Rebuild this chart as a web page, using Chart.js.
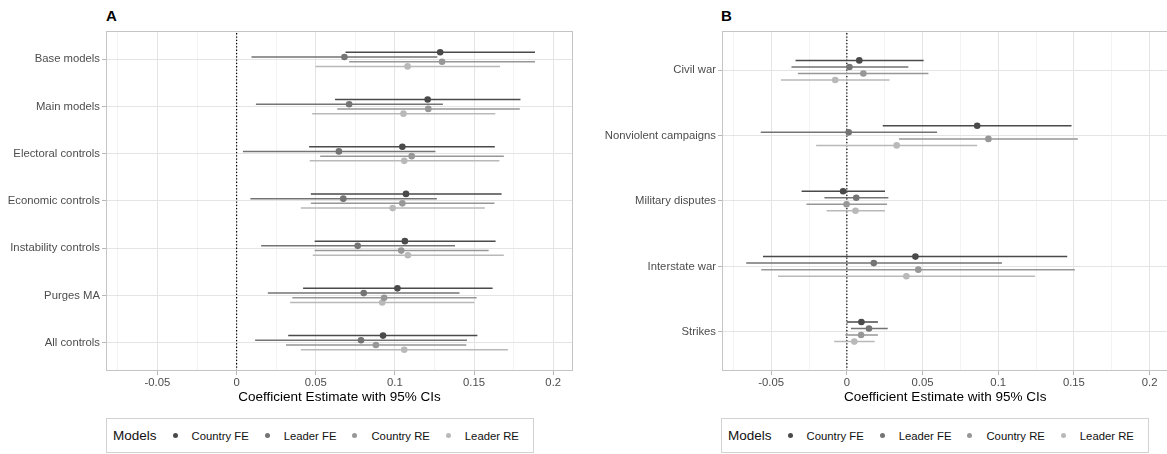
<!DOCTYPE html>
<html>
<head>
<meta charset="utf-8">
<script src="https://cdn.jsdelivr.net/npm/chart.js@4.4.1/dist/chart.umd.min.js"></script>
<style>
  html, body {
    margin: 0;
    padding: 0;
    background: #fff;
    width: 1167px;
    height: 454px;
    overflow: hidden;
    font-family: "Liberation Sans", Arial, sans-serif;
  }
  .panel { position: absolute; top: 0; }
  .tag {
    position: absolute;
    top: 8px;
    font-weight: bold;
    font-size: 15px;
    line-height: 1;
    color: #000;
  }
  .legend {
    position: absolute;
    top: 418px;
    height: 35px;
    box-sizing: border-box;
    border: 1px solid #d2d2d2;
    display: flex;
    align-items: center;
    padding: 0 14px 0 6px;
    white-space: nowrap;
  }
  .legend .title { font-size: 13.5px; color: #111; }
  .legend .key {
    width: 17px;
    height: 17px;
    margin-left: 10px;
    display: flex;
    align-items: center;
    justify-content: center;
  }
  .legend .key i { width: 5px; height: 5px; border-radius: 50%; display: block; }
  .legend .lab { font-size: 11.3px; margin-left: 8px; color: #111; }
</style>
</head>
<body>
<div class="tag" style="left:106px">A</div>
<div class="tag" style="left:721px">B</div>
<canvas id="chartA" class="panel" style="left:0" width="580" height="410"></canvas>
<canvas id="chartB" class="panel" style="left:580px" width="595" height="410"></canvas>
<div class="legend" id="legendA" style="left:106px"></div>
<div class="legend" id="legendB" style="left:721px"></div>

<script>
const modelNames = ["Country FE", "Leader FE", "Country RE", "Leader RE"];

// Panel A
const categoriesA = ["Base models", "Main models", "Electoral controls", "Economic controls",
  "Instability controls", "Purges MA", "All controls"];
const countryFeA = [0.1286, 0.1207, 0.1047, 0.1070, 0.1063, 0.1016, 0.0925];
const countryFeLoA = [0.0688, 0.0622, 0.0458, 0.0469, 0.0493, 0.0420, 0.0326];
const countryFeHiA = [0.1885, 0.1793, 0.1631, 0.1674, 0.1636, 0.1617, 0.1521];
const leaderFeA = [0.0681, 0.0711, 0.0646, 0.0674, 0.0765, 0.0803, 0.0786];
const leaderFeLoA = [0.0094, 0.0122, 0.0040, 0.0087, 0.0155, 0.0197, 0.0117];
const leaderFeHiA = [0.1268, 0.1303, 0.1256, 0.1265, 0.1380, 0.1408, 0.1455];
const countryReA = [0.1298, 0.1211, 0.1106, 0.1047, 0.1040, 0.0932, 0.0880];
const countryReLoA = [0.0711, 0.0636, 0.0528, 0.0469, 0.0493, 0.0352, 0.0312];
const countryReHiA = [0.1885, 0.1789, 0.1688, 0.1629, 0.1592, 0.1516, 0.1451];
const leaderReA = [0.1080, 0.1054, 0.1059, 0.0986, 0.1082, 0.0920, 0.1059];
const leaderReLoA = [0.0498, 0.0477, 0.0462, 0.0406, 0.0481, 0.0338, 0.0406];
const leaderReHiA = [0.1664, 0.1634, 0.1660, 0.1568, 0.1688, 0.1502, 0.1714];

// Panel B
const categoriesB = ["Civil war", "Nonviolent campaigns", "Military disputes", "Interstate war", "Strikes"];
const countryFeB = [0.0082, 0.0861, -0.0025, 0.0453, 0.0096];
const countryFeLoB = [-0.0339, 0.0237, -0.0299, -0.0554, 0.0000];
const countryFeHiB = [0.0507, 0.1484, 0.0252, 0.1456, 0.0205];
const leaderFeB = [0.0017, 0.0012, 0.0062, 0.0178, 0.0146];
const leaderFeLoB = [-0.0366, -0.0569, -0.0148, -0.0665, 0.0027];
const leaderFeHiB = [0.0406, 0.0596, 0.0274, 0.1024, 0.0270];
const countryReB = [0.0109, 0.0935, -0.0002, 0.0472, 0.0094];
const countryReLoB = [-0.0324, 0.0344, -0.0267, -0.0566, -0.0010];
const countryReHiB = [0.0539, 0.1526, 0.0265, 0.1506, 0.0205];
const leaderReB = [-0.0077, 0.0329, 0.0057, 0.0393, 0.0049];
const leaderReLoB = [-0.0435, -0.0203, -0.0134, -0.0455, -0.0084];
const leaderReHiB = [0.0282, 0.0861, 0.0252, 0.1244, 0.0183];

// x axis ticks
const xMajorTicks = [-0.05, 0, 0.05, 0.1, 0.15, 0.2];
const xMajorLabels = ["-0.05", "0", "0.05", "0.1", "0.15", "0.2"];
const xMinorTicks = [-0.075, -0.025, 0.025, 0.075, 0.125, 0.175];
const xLimits = [-0.0825, 0.2125];
const axisTitle = "Coefficient Estimate with 95% CIs";

const modelColors = ["#4a4a4a", "#747474", "#979797", "#b9b9b9"];
const dodge = [0.15, 0.05, -0.05, -0.15];

Chart.defaults.font.family = '"Liberation Sans", Arial, sans-serif';

const panelBorder = {
  id: "panelBorder",
  afterDraw(chart) {
    const { ctx, chartArea: a } = chart;
    ctx.save();
    ctx.strokeStyle = "#c4c4c4";
    ctx.lineWidth = 1;
    ctx.strokeRect(a.left + 0.5, a.top + 0.5, a.right - a.left - 1, a.bottom - a.top - 1);
    ctx.restore();
  },
};

function buildPanel(canvasId, categories, est, lo, hi, yWidth, padRight) {
  const n = categories.length;
  const yPos = (i, m) => n - i + dodge[m];
  const datasets = [
    {
      data: [{ x: 0, y: 0.4 }, { x: 0, y: n + 0.6 }],
      showLine: true,
      borderColor: "#000",
      borderWidth: 1.2,
      borderDash: [1.3, 2],
      pointRadius: 0,
      order: 3,
    },
  ];

  modelNames.forEach((name, m) => {
    datasets.push({
      label: name + " CI",
      data: categories.flatMap((c, i) => [
        { x: lo[m][i], y: yPos(i, m) },
        { x: hi[m][i], y: yPos(i, m) },
        { x: null, y: null },
      ]),
      showLine: true,
      spanGaps: false,
      borderColor: modelColors[m],
      borderWidth: 1.5,
      pointRadius: 0,
      order: 2,
    });
    datasets.push({
      label: name,
      data: categories.map((c, i) => ({ x: est[m][i], y: yPos(i, m) })),
      showLine: false,
      backgroundColor: modelColors[m],
      borderWidth: 0,
      pointRadius: 3.3,
      order: 1,
    });
  });

  const allTicks = [...xMajorTicks, ...xMinorTicks].sort((a, b) => a - b);

  new Chart(document.getElementById(canvasId), {
    type: "scatter",
    data: { datasets },
    options: {
      responsive: false,
      animation: false,
      events: [],
      layout: { padding: { top: 31, right: padRight, left: 0, bottom: 0 } },
      plugins: { legend: { display: false }, tooltip: { enabled: false } },
      scales: {
        x: {
          type: "linear",
          min: xLimits[0],
          max: xLimits[1],
          afterBuildTicks: (scale) => {
            scale.ticks = allTicks.map((v) => ({ value: v, minor: xMinorTicks.includes(v) }));
          },
          afterFit: (scale) => { scale.height = 39; },
          ticks: {
            autoSkip: false,
            maxRotation: 0,
            padding: 1,
            color: "#4d4d4d",
            font: { size: 11.3 },
            callback: (value) => {
              const k = xMajorTicks.findIndex((t) => Math.abs(t - value) < 1e-9);
              return k >= 0 ? xMajorLabels[k] : "";
            },
          },
          grid: {
            color: (ctx) => (ctx.tick && ctx.tick.minor ? "#f3f3f3" : "#e4e4e4"),
            tickColor: (ctx) => (ctx.tick && ctx.tick.minor ? "rgba(0,0,0,0)" : "#b8b8b8"),
            tickLength: 4,
            lineWidth: 1,
          },
          border: { display: false },
          title: {
            display: true,
            text: axisTitle,
            color: "#000",
            font: { size: 13.5 },
            padding: { top: 0, bottom: 5 },
          },
        },
        y: {
          type: "linear",
          min: 0.4,
          max: n + 0.6,
          afterBuildTicks: (scale) => {
            scale.ticks = categories.map((c, i) => ({ value: i + 1 }));
          },
          afterFit: (scale) => { scale.width = yWidth; },
          ticks: {
            autoSkip: false,
            padding: 2,
            color: "#4d4d4d",
            font: { size: 11.3 },
            callback: (value) => categories[n - value],
          },
          grid: {
            color: "#e4e4e4",
            tickColor: "#b8b8b8",
            tickLength: 4,
            lineWidth: 1,
          },
          border: { display: false },
        },
      },
    },
    plugins: [panelBorder],
  });
}

function buildLegend(id) {
  const box = document.getElementById(id);
  box.innerHTML =
    `<span class="title">Models</span>` +
    modelNames
      .map(
        (name, m) =>
          `<span class="key"><i style="background:${modelColors[m]}"></i></span><span class="lab">${name}</span>`
      )
      .join("");
}

buildPanel(
  "chartA",
  categoriesA,
  [countryFeA, leaderFeA, countryReA, leaderReA],
  [countryFeLoA, leaderFeLoA, countryReLoA, leaderReLoA],
  [countryFeHiA, leaderFeHiA, countryReHiA, leaderReHiA],
  106,
  7
);
buildPanel(
  "chartB",
  categoriesB,
  [countryFeB, leaderFeB, countryReB, leaderReB],
  [countryFeLoB, leaderFeLoB, countryReLoB, leaderReLoB],
  [countryFeHiB, leaderFeHiB, countryReHiB, leaderReHiB],
  142,
  6.5
);
buildLegend("legendA");
buildLegend("legendB");
</script>
</body>
</html>
